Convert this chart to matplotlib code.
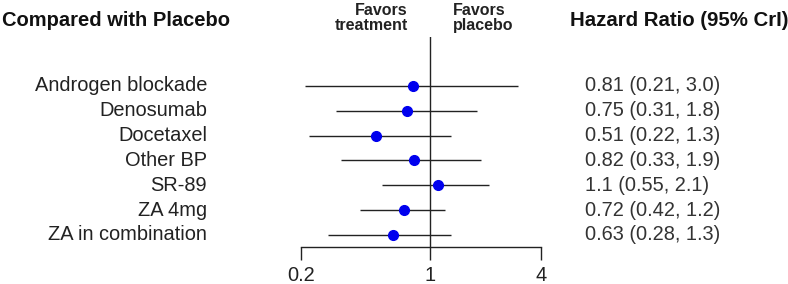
import matplotlib
matplotlib.use('Agg')
from matplotlib import pyplot as plt
import matplotlib.transforms as mtransforms

plt.rcParams['font.family'] = ['Liberation Sans', 'DejaVu Sans']

treatments = ['Androgen blockade', 'Denosumab', 'Docetaxel', 'Other BP',
              'SR-89', 'ZA 4mg', 'ZA in combination']
hr = [0.81, 0.75, 0.51, 0.82, 1.1, 0.72, 0.63]
lower = [0.21, 0.31, 0.22, 0.33, 0.55, 0.42, 0.28]
upper = [3.0, 1.8, 1.3, 1.9, 2.1, 1.2, 1.3]
hr_text = ['0.81 (0.21, 3.0)', '0.75 (0.31, 1.8)', '0.51 (0.22, 1.3)',
           '0.82 (0.33, 1.9)', '1.1 (0.55, 2.1)', '0.72 (0.42, 1.2)',
           '0.63 (0.28, 1.3)']
xticks = [0.2, 1, 4]
xticklabels = ['0.2', '1', '4']

W, H = 788, 284
fig = plt.figure(figsize=(W / 100, H / 100), dpi=100)

# forest panel, pixel box 260..560 wide, 37..247 high
ax = fig.add_axes([260 / W, 1 - 247 / H, 300 / W, 210 / H])
ax.set_xscale('log')
ax.set_xlim(0.12, 5.06)
ax.set_ylim(6.484, -1.973)

rows = list(range(len(treatments)))
line_col = '#222222'
for i in rows:
    ax.plot([lower[i], upper[i]], [i, i], color=line_col, lw=1.0, solid_capstyle='butt')
ax.plot(hr, rows, 'o', color='#0000ee', markersize=7, zorder=3)
ax.axvline(1, color=line_col, lw=1.0)

for s in ['top', 'right', 'left']:
    ax.spines[s].set_visible(False)
ax.spines['bottom'].set_bounds(0.2, 4)
ax.spines['bottom'].set_color(line_col)
ax.spines['bottom'].set_linewidth(1.0)
ax.set_yticks([])
ax.set_xticks(xticks)
ax.set_xticklabels(xticklabels)
ax.minorticks_off()
ax.tick_params(axis='x', length=9.4, width=1.0, color=line_col, pad=4,
               labelsize=14.4, labelcolor='#222222')

trans = mtransforms.blended_transform_factory(fig.transFigure, ax.transData)
for i in rows:
    ax.text(207 / W, i, treatments[i], transform=trans, ha='right', va='center',
            fontsize=14.4, color='#222222', clip_on=False)
    ax.text(585 / W, i, hr_text[i], transform=trans, ha='left', va='center',
            fontsize=14.4, color='#333333', clip_on=False)

fig.text(2 / W, 1 - 20 / H, 'Compared with Placebo', ha='left', va='center',
         fontsize=14.5, fontweight='bold', color='#111111')
fig.text(570 / W, 1 - 20 / H, 'Hazard Ratio (95% CrI)', ha='left', va='center',
         fontsize=14.7, fontweight='bold', color='#111111')
fig.text(408 / W, 1 - 18 / H, 'Favors\ntreatment', ha='right', va='center',
         multialignment='right', fontsize=11.5, fontweight='bold',
         color='#222222', linespacing=1.0)
fig.text(453 / W, 1 - 18 / H, 'Favors\nplacebo', ha='left', va='center',
         multialignment='left', fontsize=11.5, fontweight='bold',
         color='#222222', linespacing=1.0)

fig.savefig('out.png', dpi=100)
